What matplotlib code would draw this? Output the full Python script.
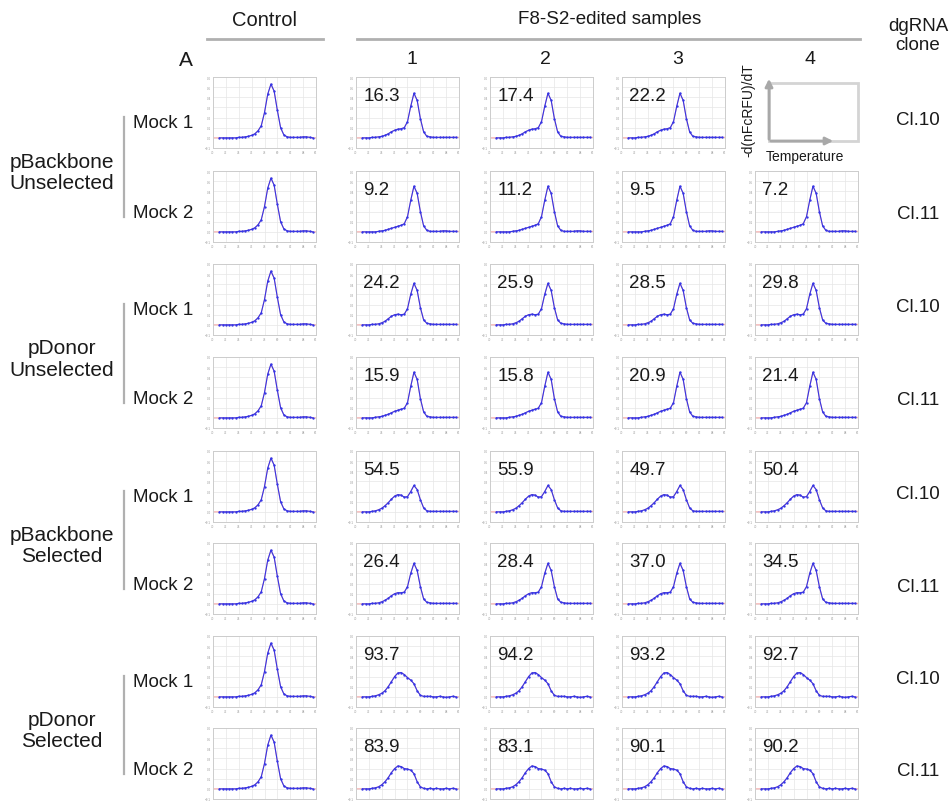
import numpy as np
import matplotlib
matplotlib.use("Agg")
import matplotlib.pyplot as plt
from matplotlib.lines import Line2D
from matplotlib.patches import Rectangle, FancyArrowPatch

plt.rcParams['font.family'] = ['Liberation Sans', 'DejaVu Sans']

W, H = 953, 803

# melt temperature grid (deg C)
temps = [71.0, 71.5, 72.0, 72.5, 73.0, 73.5, 74.0, 74.5, 75.0, 75.5,
         76.0, 76.5, 77.0, 77.5, 78.0, 78.5, 79.0, 79.5, 80.0, 80.5,
         81.0, 81.5, 82.0, 82.5, 83.0, 83.5, 84.0, 84.5, 85.0, 85.5]

# -d(RFU)/dT
control_curve = [0, 0, 0, 0, 0, 0, 0.005, 0.005, 0.01, 0.015,
                 0.025, 0.04, 0.07, 0.12, 0.25, 0.43, 0.53, 0.46, 0.27, 0.1,
                 0.03, 0.01, 0.005, 0.005, 0.005, 0.005, 0.01, 0.01, 0.005, 0]
curve_bb_unsel_m1 = [0, 0, 0, 0.005, 0.005, 0.01, 0.015, 0.025, 0.04, 0.06,
                     0.075, 0.085, 0.09, 0.1, 0.16, 0.31, 0.44, 0.37, 0.19, 0.06,
                     0.015, 0.01, 0.005, 0.005, 0.005, 0.005, 0.005, 0.005, 0.005, 0.005]
curve_bb_unsel_m2 = [0, 0, 0, 0, 0, 0.005, 0.01, 0.015, 0.025, 0.035,
                     0.045, 0.055, 0.065, 0.08, 0.15, 0.31, 0.45, 0.38, 0.2, 0.06,
                     0.015, 0.005, 0.005, 0.005, 0.005, 0.01, 0.01, 0.005, 0.005, 0.005]
curve_do_unsel_m1 = [0, 0, 0, 0.005, 0.005, 0.01, 0.02, 0.035, 0.06, 0.085,
                     0.1, 0.105, 0.1, 0.105, 0.16, 0.3, 0.41, 0.34, 0.17, 0.05,
                     0.015, 0.01, 0.005, 0.005, 0.005, 0.005, 0.005, 0.005, 0.005, 0.005]
curve_do_unsel_m2 = [0, 0, 0, 0, 0.005, 0.01, 0.015, 0.025, 0.035, 0.05,
                     0.065, 0.075, 0.085, 0.095, 0.15, 0.31, 0.45, 0.38, 0.19, 0.06,
                     0.015, 0.01, 0.005, 0.005, 0.005, 0.005, 0.005, 0.005, 0.005, 0.005]
curve_bb_sel_m1 = [0, 0, 0, 0.005, 0.01, 0.02, 0.035, 0.06, 0.09, 0.125,
                   0.155, 0.17, 0.165, 0.145, 0.15, 0.2, 0.26, 0.22, 0.12, 0.04,
                   0.01, 0.005, 0.005, 0.005, 0.005, 0.005, 0.005, 0.005, 0.005, 0.005]
curve_bb_sel_m2 = [0, 0, 0, 0.005, 0.005, 0.01, 0.02, 0.035, 0.055, 0.08,
                   0.1, 0.11, 0.11, 0.115, 0.17, 0.3, 0.4, 0.33, 0.17, 0.05,
                   0.015, 0.01, 0.005, 0.005, 0.005, 0.005, 0.005, 0.005, 0.005, 0.005]
curve_do_sel_m1 = [0, 0, 0, 0.005, 0.01, 0.02, 0.035, 0.06, 0.1, 0.15,
                   0.2, 0.235, 0.24, 0.22, 0.19, 0.165, 0.13, 0.06, 0.015, 0.005,
                   0.005, 0.005, 0, 0, 0.005, 0, -0.005, 0, 0.005, 0]
curve_do_sel_m2 = [0, 0, 0, 0.005, 0.01, 0.02, 0.04, 0.07, 0.11, 0.16,
                   0.2, 0.225, 0.22, 0.2, 0.195, 0.185, 0.15, 0.07, 0.02, 0.005,
                   0, 0.005, 0, 0.005, 0, 0, 0.005, 0, 0.005, 0]

row_curves = [curve_bb_unsel_m1, curve_bb_unsel_m2, curve_do_unsel_m1, curve_do_unsel_m2,
              curve_bb_sel_m1, curve_bb_sel_m2, curve_do_sel_m1, curve_do_sel_m2]

# heteroduplex percentages, one list per row (None = empty slot)
pct_bb_unsel_m1 = ["16.3", "17.4", "22.2", None]
pct_bb_unsel_m2 = ["9.2", "11.2", "9.5", "7.2"]
pct_do_unsel_m1 = ["24.2", "25.9", "28.5", "29.8"]
pct_do_unsel_m2 = ["15.9", "15.8", "20.9", "21.4"]
pct_bb_sel_m1 = ["54.5", "55.9", "49.7", "50.4"]
pct_bb_sel_m2 = ["26.4", "28.4", "37.0", "34.5"]
pct_do_sel_m1 = ["93.7", "94.2", "93.2", "92.7"]
pct_do_sel_m2 = ["83.9", "83.1", "90.1", "90.2"]
row_pcts = [pct_bb_unsel_m1, pct_bb_unsel_m2, pct_do_unsel_m1, pct_do_unsel_m2,
            pct_bb_sel_m1, pct_bb_sel_m2, pct_do_sel_m1, pct_do_sel_m2]

group_labels = ["pBackbone\nUnselected", "pDonor\nUnselected",
                "pBackbone\nSelected", "pDonor\nSelected"]
mock_labels = ["Mock 1", "Mock 2"]
clone_labels = ["Cl.10", "Cl.11", "Cl.10", "Cl.11", "Cl.10", "Cl.11", "Cl.10", "Cl.11"]
sample_labels = ["1", "2", "3", "4"]

# layout in pixels
col_left = [213, 356, 490, 622, 755]
panel_w = 103
row_top = [78, 172, 265, 358, 452, 544, 637, 729]
panel_h = 71
xlim = (70, 86)
ylim = (-0.1, 0.6)
TXT = '#1a1a1a'
LINE_GRAY = '#b0b0b0'


def fx(x):
    return x / W


def fy(y):
    return 1 - y / H


def hline(fig, x0, x1, y, lw=2.0):
    fig.add_artist(Line2D([fx(x0), fx(x1)], [fy(y), fy(y)], transform=fig.transFigure,
                          color=LINE_GRAY, lw=lw))


def vline(fig, x, y0, y1, lw=2.0):
    fig.add_artist(Line2D([fx(x), fx(x)], [fy(y0), fy(y1)], transform=fig.transFigure,
                          color=LINE_GRAY, lw=lw))


def melt_panel(fig, left, top, curve, label=None):
    ax = fig.add_axes([fx(left), fy(top + panel_h), panel_w / W, panel_h / H])
    x = np.array(temps)
    y = np.array(curve)
    # fitted trace (faint red), runs to the axis edges
    ax.plot(np.r_[xlim[0], x, xlim[1]], np.r_[y[0], y, y[-1]], color='#f4a8a8', lw=0.8, zorder=2)
    ax.plot(x, y, color='#3535e6', lw=0.8, marker='o', ms=1.7, mew=0, zorder=3)
    ax.set_xlim(*xlim)
    ax.set_ylim(*ylim)
    ax.set_xticks(np.arange(70, 86.1, 2))
    ax.set_yticks(np.arange(-0.1, 0.61, 0.1))
    ax.tick_params(length=0, labelsize=2.2, labelcolor='#999999', pad=1.5)
    ax.grid(True, color='#e6e6e6', lw=0.5)
    for sp in ax.spines.values():
        sp.set_color('#cccccc')
        sp.set_linewidth(0.7)
    if label is not None:
        ax.text(0.07, 0.86, label, transform=ax.transAxes, fontsize=13.5, color=TXT,
                ha='left', va='top')
    return ax


fig = plt.figure(figsize=(W / 100, H / 100), dpi=100)

for r in range(8):
    melt_panel(fig, col_left[0], row_top[r], control_curve)
    for c in range(4):
        if row_pcts[r][c] is None:
            continue
        melt_panel(fig, col_left[c + 1], row_top[r], row_curves[r], row_pcts[r][c])
    fig.text(fx(918), fy(row_top[r] + 43), clone_labels[r], fontsize=13.5, color=TXT,
             ha='center', va='center')

# column headers
fig.text(fx(265), fy(20), "Control", fontsize=14.5, color=TXT, ha='center', va='center')
hline(fig, 207, 323, 40)
fig.text(fx(610), fy(20), "F8-S2-edited samples", fontsize=13.5, color=TXT, ha='center', va='center')
hline(fig, 357, 860, 40)
for c, s in enumerate(sample_labels):
    fig.text(fx(col_left[c + 1] + panel_w / 2 + 4), fy(60), s, fontsize=14, color=TXT,
             ha='center', va='center')
fig.text(fx(186), fy(60), "A", fontsize=15, color=TXT, ha='center', va='center')
fig.text(fx(918), fy(36), "dgRNA\nclone", fontsize=13.5, color=TXT, ha='center', va='center',
         linespacing=1.1)

# row group labels
for g in range(4):
    t1 = row_top[2 * g]
    t2 = row_top[2 * g + 1]
    y_m1 = t1 + 46
    y_m2 = t2 + 42
    vline(fig, 124, y_m1 - 6, y_m2 + 4, lw=1.6)
    fig.text(fx(133), fy(y_m1), mock_labels[0], fontsize=13.5, color=TXT, ha='left', va='center')
    fig.text(fx(133), fy(y_m2), mock_labels[1], fontsize=13.5, color=TXT, ha='left', va='center')
    fig.text(fx(62), fy((y_m1 + y_m2) / 2 + 4), group_labels[g], fontsize=15, color=TXT,
             ha='center', va='center', linespacing=1.18)

# axis key in the empty slot
fig.add_artist(Rectangle((fx(769), fy(142)), (858 - 769) / W, (142 - 84) / H,
                         transform=fig.transFigure, fill=False, ec='#d4d4d4', lw=2))
fig.add_artist(FancyArrowPatch((fx(769), fy(143)), (fx(769), fy(77)), transform=fig.transFigure,
                               arrowstyle='-|>', mutation_scale=11, color='#a8a8a8', lw=2))
fig.add_artist(FancyArrowPatch((fx(768), fy(142)), (fx(836), fy(142)), transform=fig.transFigure,
                               arrowstyle='-|>', mutation_scale=11, color='#a8a8a8', lw=2))
fig.text(fx(748), fy(110), "-d(nFcRFU)/dT", fontsize=10, color=TXT, rotation=90,
         ha='center', va='center')
fig.text(fx(766), fy(157), "Temperature", fontsize=10, color=TXT, ha='left', va='center')

fig.savefig("out.png", dpi=100)
